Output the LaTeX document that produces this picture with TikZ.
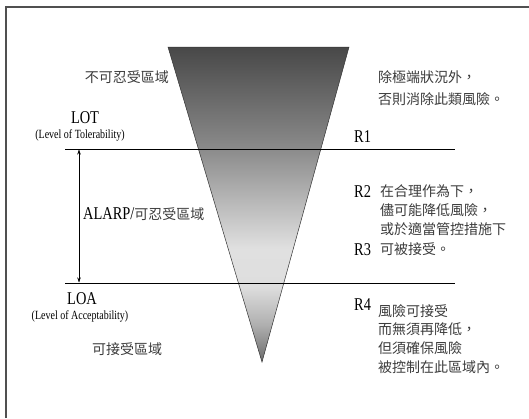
\documentclass[tikz,border=0pt]{standalone}
\usepackage{fontspec}
\setmainfont{Liberation Serif}
\newfontfamily\cjk{Noto Sans CJK TC}
\newfontfamily\narrowserif[FakeStretch=0.8]{Liberation Serif}
\usetikzlibrary{arrows.meta}
\definecolor{sA}{HTML}{6C6C6C}
\definecolor{sB}{HTML}{B0B0B0}
\definecolor{sC}{HTML}{DEDEDE}
\definecolor{sD}{HTML}{E0E0E0}
\definecolor{sE}{HTML}{8A8A8A}
\definecolor{sF}{HTML}{484848}
\definecolor{cjkgray}{HTML}{3C3C3C}
\definecolor{framegray}{HTML}{505050}
\pgfdeclareverticalshading{riskshade}{100bp}{color(0bp)=(sA); color(25bp)=(sA); color(31bp)=(sB); color(37bp)=(sC); color(43bp)=(sD); color(59bp)=(sE); color(75bp)=(sF); color(100bp)=(sF)}
\begin{document}
\begin{tikzpicture}[x=1pt,y=-1pt,
  cjktext/.style={inner sep=0pt, text=cjkgray, font=\cjk\fontsize{14}{16}\selectfont},
  biglab/.style={inner sep=0pt, text=black, font=\narrowserif\fontsize{18}{20}\selectfont},
  smalllab/.style={inner sep=0pt, text=black, font=\narrowserif\fontsize{12.5}{14}\selectfont},
  levelline/.style={line width=0.8pt, black},
  framestyle/.style={line width=1.5pt, framegray},
  dimarrow/.style={line width=0.5pt, {Stealth[length=5pt,width=3.5pt]}-{Stealth[length=5pt,width=3.5pt]}}
]
\useasboundingbox (0,0) rectangle (529,418);
\fill[white] (0,0) rectangle (529,418);
% frame
\draw[framestyle] (6,418) -- (6,7) -- (529,7);
% triangle
\coordinate (tl) at (168,47);
\coordinate (tr) at (349,47);
\coordinate (apex) at (262,362);
\shade[shading=riskshade, draw=black!80, line width=0.5pt] (tl) -- (tr) -- (apex) -- cycle;
% level lines
\coordinate (lotL) at (65,149);
\coordinate (lotR) at (455,149);
\coordinate (loaL) at (65,283);
\coordinate (loaR) at (455,283);
\draw[levelline] (lotL) -- (lotR);
\draw[levelline] (loaL) -- (loaR);
\coordinate (arrT) at (79,149.5);
\coordinate (arrB) at (79,282.5);
\draw[dimarrow] (arrT) -- (arrB);
% left labels
\node[cjktext, anchor=east] (intol) at (169,77) {不可忍受區域};
\node[biglab] (lot) at (85,118) {LOT};
\node[smalllab] (lotsub) at (80,135) {(Level of Tolerability)};
\node[anchor=west, inner sep=0pt] (alarp) at (83,214) {\narrowserif\fontsize{18}{20}\selectfont ALARP/\cjk\fontsize{14}{16}\selectfont\color{cjkgray}可忍受區域};
\node[biglab] (loa) at (82,299) {LOA};
\node[smalllab] (loasub) at (80,316) {(Level of Acceptability)};
\node[cjktext, anchor=west] (accept) at (92,349) {可接受區域};
% right labels
\node[cjktext, anchor=west] (t1a) at (378,77) {除極端狀況外，};
\node[cjktext, anchor=west] (t1b) at (378,99) {否則消除此類風險。};
\node[biglab, anchor=west] (r1) at (354,137) {R1};
\node[biglab, anchor=west] (r2) at (354,192) {R2};
\node[cjktext, anchor=west] (t2a) at (380,191) {在合理作為下，};
\node[cjktext, anchor=west] (t2b) at (380,210) {儘可能降低風險，};
\node[cjktext, anchor=west] (t2c) at (380,229) {或於適當管控措施下};
\node[biglab, anchor=west] (r3) at (354,250) {R3};
\node[cjktext, anchor=west] (t2d) at (380,249) {可被接受。};
\node[biglab, anchor=west] (r4) at (354,305) {R4};
\node[cjktext, anchor=west] (t4a) at (378,311) {風險可接受};
\node[cjktext, anchor=west] (t4b) at (378,329) {而無須再降低，};
\node[cjktext, anchor=west] (t4c) at (378,348) {但須確保風險};
\node[cjktext, anchor=west] (t4d) at (378,367) {被控制在此區域內。};
\end{tikzpicture}
\end{document}
